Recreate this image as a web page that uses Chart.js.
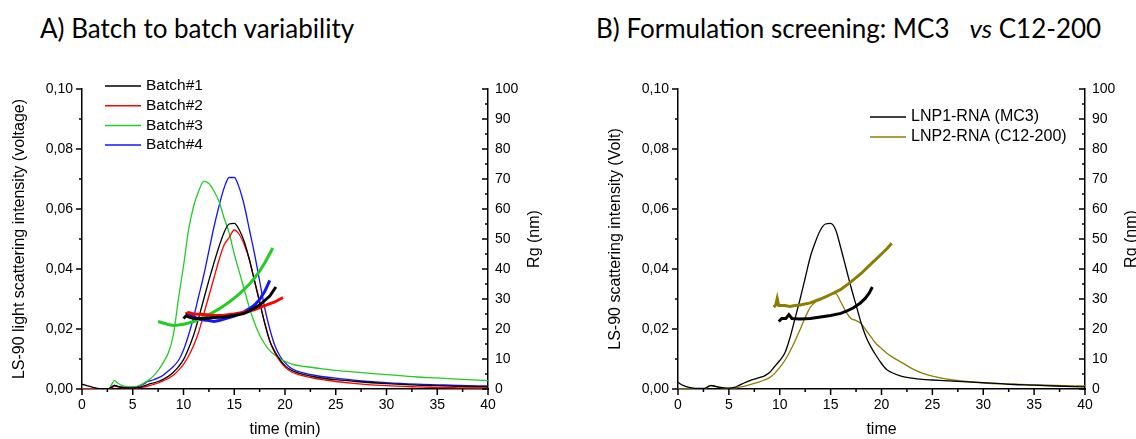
<!DOCTYPE html>
<html>
<head>
<meta charset="utf-8">
<script src="https://cdn.jsdelivr.net/npm/chart.js@4"></script>
<style>
  body { margin: 0; background: #fff; width: 1136px; height: 439px; overflow: hidden; position: relative; }
  .titulo { position: absolute; top: 12px; font-family: Lato, sans-serif; font-size: 26px; color: #000; white-space: pre; }
  #tituloA { left: 40px; }
  #tituloB { left: 596px; }
  canvas { position: absolute; top: 0; }
  #graficoA { left: 0; }
  #graficoB { left: 596px; }
</style>
</head>
<body>
<div class="titulo" id="tituloA">A) Batch to batch variability</div>
<div class="titulo" id="tituloB">B) Formulation screening: MC3   <i>vs</i> C12-200</div>
<canvas id="graficoA" width="596" height="439"></canvas>
<canvas id="graficoB" width="540" height="439"></canvas>
<script>
// tiempo (min) comun para las curvas LS-90
const signalTime = [0, 0.5, 1, 1.5, 2, 2.6, 3, 3.2, 3.5, 4,
  4.5, 5, 5.5, 6, 6.5, 7, 7.5, 8, 8.5, 9,
  9.5, 10, 10.5, 11, 11.5, 12, 12.5, 13, 13.5, 14,
  14.5, 15, 15.5, 16, 16.5, 17, 17.5, 18, 18.5, 19,
  19.5, 20, 20.5, 21, 22, 23, 24, 25, 27, 30,
  33, 35, 37, 40];

// A) intensidad LS-90 (V)
const batch1Signal = [0.0016, 0.0011, 0.0006, 0.0002, 0.0001, 0.0001, 0.0008, 0.0012, 0.0009, 0.0005,
  0.0003, 0.0003, 0.0005, 0.0009, 0.0015, 0.0020, 0.0025, 0.0032, 0.0042, 0.0056,
  0.0074, 0.0098, 0.0135, 0.0180, 0.0238, 0.0300, 0.0362, 0.0420, 0.0475, 0.0522,
  0.0550, 0.0552, 0.0530, 0.0490, 0.0430, 0.0360, 0.0290, 0.0220, 0.0160, 0.0125,
  0.0098, 0.0078, 0.0065, 0.0057, 0.0047, 0.0040, 0.0035, 0.0031, 0.0025, 0.0018,
  0.0013, 0.0011, 0.0009, 0.0007];
const batch2Signal = [0, 0, 0, 0, 0, 0, 0.0006, 0.0010, 0.0008, 0.0004,
  0.0002, 0.0002, 0.0003, 0.0006, 0.0010, 0.0015, 0.0020, 0.0027, 0.0035, 0.0046,
  0.0062, 0.0082, 0.0110, 0.0145, 0.0190, 0.0250, 0.0310, 0.0370, 0.0430, 0.0480,
  0.0505, 0.0530, 0.0515, 0.0480, 0.0430, 0.0360, 0.0290, 0.0220, 0.0160, 0.0120,
  0.0093, 0.0073, 0.0060, 0.0052, 0.0042, 0.0035, 0.0030, 0.0025, 0.0018, 0.0011,
  0.0007, 0.0005, 0.0004, 0.0003];
const batch3Signal = [0, 0, 0, 0, 0, 0, 0.0020, 0.0029, 0.0020, 0.0011,
  0.0008, 0.0008, 0.0010, 0.0018, 0.0028, 0.0042, 0.0062, 0.0088, 0.0120, 0.0180,
  0.0300, 0.0410, 0.0530, 0.0610, 0.0660, 0.0692, 0.0685, 0.0660, 0.0625, 0.0570,
  0.0520, 0.0450, 0.0390, 0.0330, 0.0270, 0.0220, 0.0180, 0.0150, 0.0128, 0.0113,
  0.0102, 0.0092, 0.0085, 0.0080, 0.0075, 0.0070, 0.0066, 0.0062, 0.0056, 0.0048,
  0.0040, 0.0037, 0.0033, 0.0028];
const batch4Signal = [0, 0, 0, 0, 0, 0, 0.0008, 0.0012, 0.0009, 0.0006,
  0.0005, 0.0005, 0.0008, 0.0015, 0.0025, 0.0030, 0.0037, 0.0046, 0.0060, 0.0075,
  0.0095, 0.0130, 0.0180, 0.0240, 0.0310, 0.0380, 0.0460, 0.0540, 0.0610, 0.0670,
  0.0705, 0.0705, 0.0670, 0.0610, 0.0530, 0.0450, 0.0360, 0.0270, 0.0200, 0.0145,
  0.0110, 0.0088, 0.0072, 0.0062, 0.0052, 0.0045, 0.0040, 0.0036, 0.0029, 0.0021,
  0.0016, 0.0014, 0.0012, 0.0010];

// A) Rg (nm)
const batch1RgTime = [10, 10.3, 10.5, 11, 11.5, 12, 13, 14, 15, 16, 16.5, 17, 17.5, 18, 18.5, 18.8, 19.1];
const batch1Rg = [23.5, 24.5, 24, 23.5, 23.5, 23.5, 23.8, 24, 24.5, 25.2, 26, 27, 28, 29.5, 31, 32.5, 34];
const batch2RgTime = [10.2, 10.5, 11, 12, 13, 14, 15, 16, 17, 18, 19, 19.8];
const batch2Rg = [25, 25.5, 25, 24.8, 24.5, 24.6, 25, 25.6, 26.5, 27.8, 29, 30.5];
const batch3RgTime = [7.5, 8, 8.5, 9, 9.5, 10, 10.5, 11, 11.5, 12, 12.5, 13, 13.5, 14, 14.5, 15, 15.5, 16, 16.5, 17, 17.5, 18, 18.4, 18.8];
const batch3Rg = [22.5, 22, 21.5, 21.2, 21.3, 21.6, 22, 22.5, 23.2, 24, 24.8, 25.7, 26.7, 27.8, 29, 30.3, 31.7, 33.3, 35, 37, 39.3, 42, 44.5, 47];
const batch4RgTime = [10.4, 10.8, 11.2, 11.6, 12, 12.5, 13, 13.5, 14, 14.5, 15, 15.5, 16, 16.5, 17, 17.5, 18, 18.5];
const batch4Rg = [25.5, 24.5, 23.8, 23.2, 23, 22.8, 22.5, 22.8, 23.3, 23.8, 24.3, 25, 25.8, 26.8, 28, 29.8, 32.5, 36.2];

// B) intensidad LS-90 (V)
const lnp1Signal = [0.0022, 0.0012, 0.0006, 0.0003, 0.0002, 0.0002, 0.0009, 0.0011, 0.0010, 0.0006,
  0.0004, 0.0003, 0.0005, 0.0012, 0.0020, 0.0027, 0.0033, 0.0038, 0.0044, 0.0055,
  0.0075, 0.0095, 0.0120, 0.0170, 0.0235, 0.0300, 0.0370, 0.0440, 0.0490, 0.0530,
  0.0550, 0.0552, 0.0530, 0.0470, 0.0405, 0.0340, 0.0280, 0.0220, 0.0172, 0.0138,
  0.0110, 0.0085, 0.0065, 0.0055, 0.0042, 0.0036, 0.0032, 0.0030, 0.0026, 0.0021,
  0.0015, 0.0013, 0.0010, 0.0007];
const lnp2Signal = [0, 0, 0, 0, 0, 0.0001, 0.0008, 0.0012, 0.0011, 0.0006,
  0.0003, 0.0002, 0.0003, 0.0006, 0.0009, 0.0014, 0.0019, 0.0024, 0.0030, 0.0038,
  0.0052, 0.0072, 0.0095, 0.0125, 0.0160, 0.0198, 0.0238, 0.0272, 0.0290, 0.0298,
  0.0305, 0.0315, 0.0318, 0.0290, 0.0258, 0.0235, 0.0228, 0.0218, 0.0195, 0.0172,
  0.0150, 0.0135, 0.0120, 0.0108, 0.0088, 0.0068, 0.0053, 0.0043, 0.0030, 0.0020,
  0.0016, 0.0014, 0.0012, 0.0010];

// B) Rg (nm)
const lnp1RgTime = [9.9, 10.2, 10.6, 10.9, 11.2, 12, 13, 14, 15, 16, 16.6, 17.2, 17.9, 18.4, 18.8, 19.1];
const lnp1Rg = [22.5, 23.5, 23.5, 24.8, 23.5, 23.3, 23.5, 24, 24.5, 25.2, 26, 27, 28.6, 30.2, 32, 34];
const lnp2RgTime = [9.4, 9.6, 9.75, 9.9, 10.5, 11, 11.5, 12, 13, 14, 15, 16, 17, 18, 19, 20, 20.6, 21.0];
const lnp2Rg = [27.3, 28, 30.2, 27.8, 27.8, 27.5, 27.8, 28, 28.7, 30, 31.5, 33.2, 35.7, 38.5, 41.8, 45, 47, 48.6];

// etiquetas de los ejes
const timeTicks = [0, 5, 10, 15, 20, 25, 30, 35, 40];
const signalTicks = [0, 0.02, 0.04, 0.06, 0.08, 0.10];
const rgTicks = [0, 10, 20, 30, 40, 50, 60, 70, 80, 90, 100];

const fuente = "'Liberation Sans', Arial, sans-serif";

const toPoints = (xs, ys) => xs.map((x, i) => ({ x: x, y: ys[i] }));

function signalSet(label, ys, color) {
    return {
        label: label,
        data: toPoints(signalTime, ys),
        yAxisID: 'y',
        showLine: true,
        borderColor: color,
        borderWidth: 1.3,
        pointRadius: 0,
        cubicInterpolationMode: 'monotone',
        order: 2,
        enLeyenda: true
    };
}

function rgSet(xs, ys, color) {
    return {
        label: '',
        data: toPoints(xs, ys),
        yAxisID: 'y2',
        showLine: true,
        borderColor: color,
        borderWidth: 3,
        pointRadius: 0,
        order: 1
    };
}

// marcas de los ejes estilo Origin (mayores y menores) + titulo Rg + leyenda
const origenPlugin = {
    id: 'origen',
    afterDraw(chart, args, opts) {
        const ctx = chart.ctx;
        const area = chart.chartArea;
        ctx.save();
        ctx.strokeStyle = '#000';
        ctx.lineWidth = 1.5;
        Object.values(chart.scales).forEach(scale => {
            scale.ticks.forEach(tick => {
                const len = tick.label !== '' ? 6 : 3;
                const p = scale.getPixelForValue(tick.value);
                ctx.beginPath();
                if (scale.position === 'bottom') {
                    ctx.moveTo(p, scale.top);
                    ctx.lineTo(p, scale.top + len);
                } else if (scale.position === 'left') {
                    ctx.moveTo(scale.right, p);
                    ctx.lineTo(scale.right - len, p);
                } else {
                    // eje derecho: marcas hacia dentro
                    ctx.moveTo(scale.left, p);
                    ctx.lineTo(scale.left - len, p);
                }
                ctx.stroke();
            });
        });

        // titulo del eje derecho, leido de abajo hacia arriba
        ctx.fillStyle = '#000';
        ctx.font = '16px ' + fuente;
        ctx.textAlign = 'center';
        ctx.textBaseline = 'middle';
        ctx.save();
        ctx.translate(area.right + 47, (area.top + area.bottom) / 2);
        ctx.rotate(-Math.PI / 2);
        ctx.fillText('Rg (nm)', 0, 0);
        ctx.restore();

        // leyenda
        const ley = opts.leyenda;
        ctx.font = ley.size + 'px ' + fuente;
        ctx.textAlign = 'left';
        let fila = 0;
        chart.data.datasets.forEach(ds => {
            if (!ds.enLeyenda) return;
            const y = ley.y + fila * ley.paso;
            ctx.strokeStyle = ds.borderColor;
            ctx.lineWidth = 1.5;
            ctx.beginPath();
            ctx.moveTo(ley.x, y);
            ctx.lineTo(ley.x + 36, y);
            ctx.stroke();
            ctx.fillText(ds.label, ley.x + 41, y);
            fila++;
        });
        ctx.restore();
    }
};

function crearGrafico(canvas, datasets, yTitle, xTitle, leyenda) {
    const config = {
        type: 'scatter',
        data: { datasets: datasets },
        options: {
            responsive: false,
            animation: false,
            devicePixelRatio: 1,
            layout: { padding: { top: 89, left: 0, right: 0, bottom: 0 } },
            plugins: {
                legend: { display: false },
                tooltip: { enabled: false },
                origen: { leyenda: leyenda }
            },
            scales: {
                x: {
                    type: 'linear', position: 'bottom', min: 0, max: 40,
                    grid: { display: false, drawTicks: false, tickLength: 0 },
                    border: { color: '#000', width: 1.5 },
                    ticks: {
                        stepSize: 2.5, autoSkip: false, maxRotation: 0, padding: 8,
                        color: '#000', font: { family: fuente, size: 14 },
                        callback: v => timeTicks.includes(v) ? String(v) : ''
                    },
                    title: { display: true, text: xTitle, color: '#000', font: { family: fuente, size: 16 }, padding: { top: 0, bottom: 0 } },
                    afterFit: s => { s.height = 50; }
                },
                y: {
                    type: 'linear', position: 'left', min: 0, max: 0.1,
                    grid: { display: false, drawTicks: false, tickLength: 0 },
                    border: { color: '#000', width: 1.5 },
                    ticks: {
                        stepSize: 0.01, autoSkip: false, padding: 9,
                        color: '#000', font: { family: fuente, size: 14 },
                        callback: v => signalTicks.some(t => Math.abs(t - v) < 1e-9) ? v.toFixed(2).replace('.', ',') : ''
                    },
                    title: { display: true, text: yTitle, color: '#000', font: { family: fuente, size: 16 }, padding: { top: 10, bottom: 0 } },
                    afterFit: s => { s.width = 82; }
                },
                y2: {
                    type: 'linear', position: 'right', min: 0, max: 100,
                    grid: { display: false, drawTicks: false, tickLength: 0 },
                    border: { color: '#000', width: 1.5 },
                    ticks: {
                        stepSize: 5, autoSkip: false, padding: 7,
                        color: '#000', font: { family: fuente, size: 14 },
                        callback: v => rgTicks.includes(v) ? String(v) : ''
                    },
                    afterFit: s => { s.width = canvas.width - (canvas.id === 'graficoA' ? 488 : 489); }
                }
            }
        },
        plugins: [origenPlugin]
    };
    return new Chart(canvas, config);
}

crearGrafico(document.querySelector('#graficoA'), [
    signalSet('Batch#1', batch1Signal, '#000000'),
    signalSet('Batch#2', batch2Signal, '#ff0000'),
    signalSet('Batch#3', batch3Signal, '#22cc22'),
    signalSet('Batch#4', batch4Signal, '#1414ff'),
    rgSet(batch1RgTime, batch1Rg, '#000000'),
    rgSet(batch2RgTime, batch2Rg, '#ff0000'),
    rgSet(batch3RgTime, batch3Rg, '#22cc22'),
    rgSet(batch4RgTime, batch4Rg, '#1414ff')
], 'LS-90 light scattering intensity (voltage)', 'time (min)', { x: 105, y: 86, paso: 19.7, size: 15.5 });

crearGrafico(document.querySelector('#graficoB'), [
    signalSet('LNP1-RNA (MC3)', lnp1Signal, '#000000'),
    signalSet('LNP2-RNA (C12-200)', lnp2Signal, '#8a7f00'),
    rgSet(lnp1RgTime, lnp1Rg, '#000000'),
    rgSet(lnp2RgTime, lnp2Rg, '#8a7f00')
], 'LS-90 scattering intensity (Volt)', 'time', { x: 274, y: 117, paso: 20, size: 16 });
</script>
</body>
</html>
